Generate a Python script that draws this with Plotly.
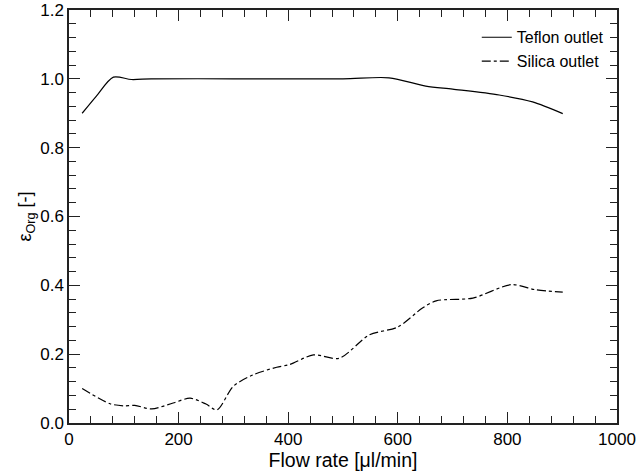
import plotly.graph_objects as go

# Organic-phase fraction at each outlet versus total flow rate
teflon_flow = [24, 50, 81, 114, 150, 300, 500, 584, 651, 700, 785, 846, 901]
teflon_eps = [0.900, 0.950, 1.005, 0.998, 1.000, 1.000, 1.000, 1.003, 0.979, 0.970, 0.953, 0.933, 0.899]

silica_flow = [24, 75, 99, 120, 151, 190, 221, 250, 270, 300, 336, 379, 403, 446,
               493, 548, 600, 645, 670, 737, 807, 852, 901]
silica_eps = [0.100, 0.056, 0.050, 0.051, 0.041, 0.058, 0.072, 0.055, 0.038, 0.107,
              0.140, 0.162, 0.170, 0.198, 0.188, 0.256, 0.279, 0.334, 0.355, 0.363,
              0.402, 0.387, 0.380]

FONT = "Liberation Sans, Arial, sans-serif"
AXIS_COLOR = "#222222"

fig = go.Figure()
fig.add_trace(go.Scatter(
    x=teflon_flow, y=teflon_eps, mode="lines", name="Teflon outlet",
    line=dict(color="black", width=1.2, shape="spline", smoothing=0.8),
))
fig.add_trace(go.Scatter(
    x=silica_flow, y=silica_eps, mode="lines", name="Silica outlet",
    line=dict(color="black", width=1.2, dash="dashdot", shape="spline", smoothing=0.8),
))

axis_common = dict(
    showline=True, linecolor=AXIS_COLOR, linewidth=1.5, mirror="ticks",
    ticks="inside", ticklen=11, tickwidth=1.2, tickcolor=AXIS_COLOR,
    showgrid=False, zeroline=False, automargin=False,
    tickfont=dict(family=FONT, size=17, color="black"),
)

fig.update_xaxes(
    range=[0, 1000], dtick=200, tick0=0,
    minor=dict(dtick=40, ticks="inside", ticklen=7, tickwidth=1.2, tickcolor=AXIS_COLOR),
    title=dict(text="Flow rate [μl/min]", font=dict(family=FONT, size=19.5, color="black"), standoff=2),
    **axis_common,
)
fig.update_yaxes(
    range=[0, 1.2], dtick=0.2, tick0=0, tickformat=".1f",
    minor=dict(dtick=0.04, ticks="inside", ticklen=7, tickwidth=1.2, tickcolor=AXIS_COLOR),
    title=dict(text="ε<sub>Org</sub> [-]", font=dict(family=FONT, size=18, color="black"), standoff=4),
    **axis_common,
)

fig.update_layout(
    width=636, height=473,
    margin=dict(l=69, r=19, t=10, b=50),
    paper_bgcolor="white", plot_bgcolor="white",
    legend=dict(
        x=0.985, y=0.975, xanchor="right", yanchor="top",
        bgcolor="rgba(0,0,0,0)", font=dict(family=FONT, size=16, color="black"),
        itemwidth=30, tracegroupgap=0,
    ),
)

fig.write_html("out.html")
